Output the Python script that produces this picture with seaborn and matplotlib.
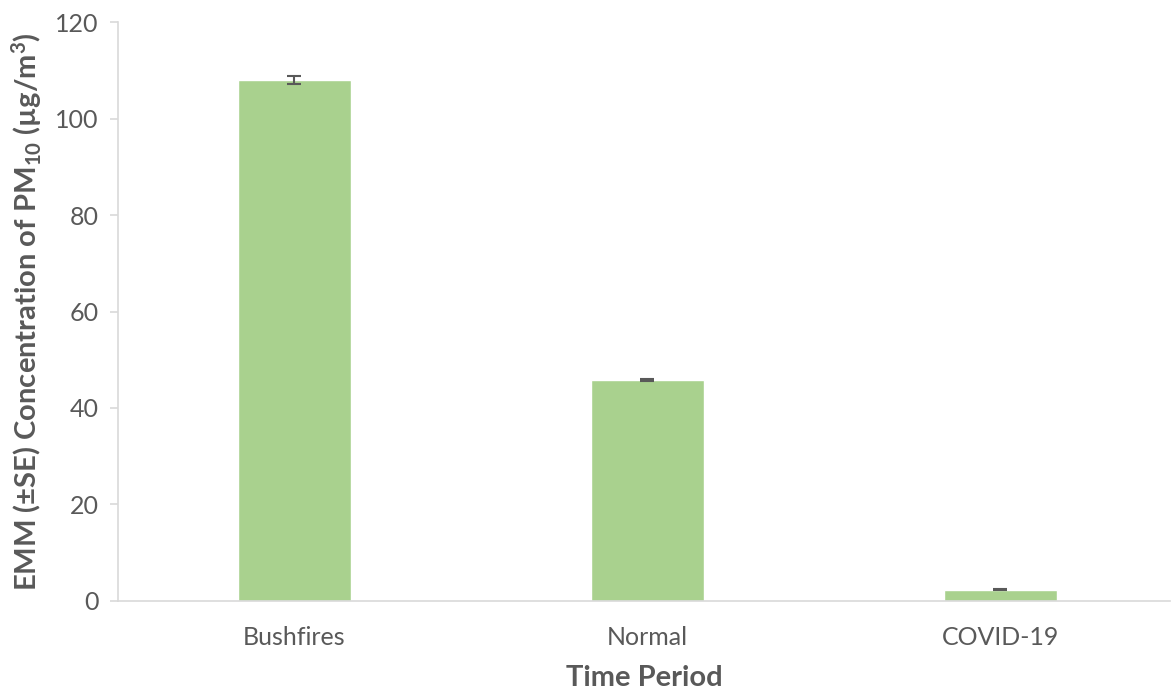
import matplotlib
matplotlib.use("Agg")
import matplotlib.pyplot as plt
import seaborn as sns
import pandas as pd

periods = ["Bushfires", "Normal", "COVID-19"]
emm = [108.0, 45.8, 2.3]
se = [0.8, 0.3, 0.15]

sns.set_theme(style="white")
plt.rcParams["font.family"] = ["Lato", "DejaVu Sans"]
plt.rcParams["mathtext.fontset"] = "custom"
plt.rcParams["mathtext.rm"] = "Lato:bold"
plt.rcParams["mathtext.default"] = "rm"

df = pd.DataFrame({"Time Period": periods, "EMM": emm})

fig = plt.figure(figsize=(11.71, 6.93), dpi=100)
ax = fig.add_axes([0.1008, 0.133, 0.898, 0.835])
sns.barplot(data=df, x="Time Period", y="EMM", color="#a9d18e", saturation=1,
            width=0.32, ax=ax, errorbar=None)
ax.errorbar(range(len(periods)), emm, yerr=se, fmt="none", ecolor="#595959",
            elinewidth=1.5, capsize=5, capthick=1.5)

ax.set_ylim(0, 120)
ax.set_yticks([0, 20, 40, 60, 80, 100, 120])
ax.set_xlim(-0.5, 2.48)
for s in ["top", "right"]:
    ax.spines[s].set_visible(False)
for s in ["left", "bottom"]:
    ax.spines[s].set_color("#d9d9d9")
    ax.spines[s].set_linewidth(1.2)
ax.tick_params(axis="y", left=True, length=6, color="#d9d9d9", width=1.2,
               labelsize=18, labelcolor="#595959", pad=8)
ax.tick_params(axis="x", bottom=False, labelsize=18, labelcolor="#595959", pad=12)
ax.set_xlabel("Time Period", fontsize=21, fontweight="bold", color="#595959", labelpad=12)
ax.set_ylabel(r"EMM (±SE) Concentration of PM$_{10}$ (µg/m$^{3}$)", fontsize=21,
              fontweight="bold", color="#595959", labelpad=8)
fig.savefig("out.png", dpi=100)
